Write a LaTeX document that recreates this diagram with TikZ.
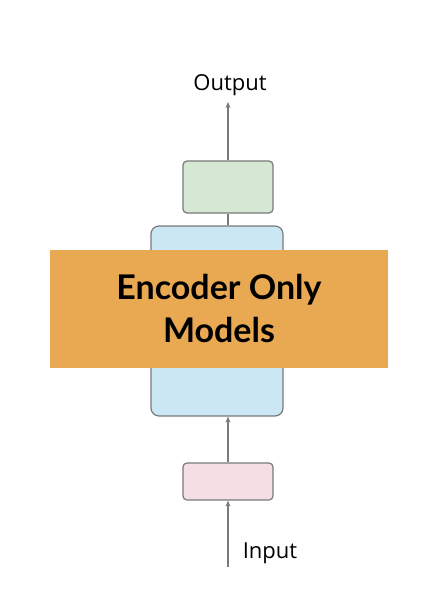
\documentclass[tikz,border=0pt]{standalone}
\usepackage{fontspec}
\setmainfont{Open Sans}
\newfontfamily\titlefont{Lato}
\usetikzlibrary{positioning,arrows.meta}
\definecolor{boxgreen}{HTML}{D5E8D4}
\definecolor{boxblue}{HTML}{CCE7F4}
\definecolor{boxpink}{HTML}{F5DEE4}
\definecolor{boxorange}{HTML}{E8A952}
\definecolor{edgegray}{HTML}{7A7A7A}

\begin{document}
\begin{tikzpicture}[x=1pt,y=1pt,
    layer/.style={draw=edgegray, line width=1.2pt, rounded corners=4pt, minimum width=90pt, inner sep=0pt},
    flow/.style={draw=edgegray, line width=1.4pt, -{Stealth[length=6pt,width=5pt]}},
    label/.style={font=\fontsize{22}{26}\selectfont, inner sep=1pt}
  ]
    \useasboundingbox (0,0) rectangle (442,-596);
    % blocks
    \node[layer, fill=boxblue, minimum width=132pt, minimum height=190pt, rounded corners=8pt] (enc) at (217,-321) {};
    \node[layer, fill=boxgreen, minimum height=52pt] (out) at (228,-187) {};
    \node[layer, fill=boxpink, minimum height=37pt] (emb) at (228,-481.5) {};
    \node[fill=boxorange, minimum width=338pt, minimum height=118pt, align=center, inner sep=0pt,
      font=\titlefont\bfseries\fontsize{34}{43}\selectfont] (title) at (219,-309) {Encoder Only\\Models};
    % labels
    \node[label] (output) at (230,-85) {Output};
    \node[label] (input) at (270,-553) {Input};
    \coordinate (outtop) at (228,-102);
    \coordinate (inbot) at (228,-567);
    % connectors
    \draw[draw=edgegray, line width=1.4pt] (out.south) -- (out.south |- enc.north);
    \draw[flow] (out.north) -- (outtop);
    \draw[flow] (emb.north) -- (emb.north |- enc.south);
    \draw[flow] (inbot) -- (emb.south);
\end{tikzpicture}
\end{document}
